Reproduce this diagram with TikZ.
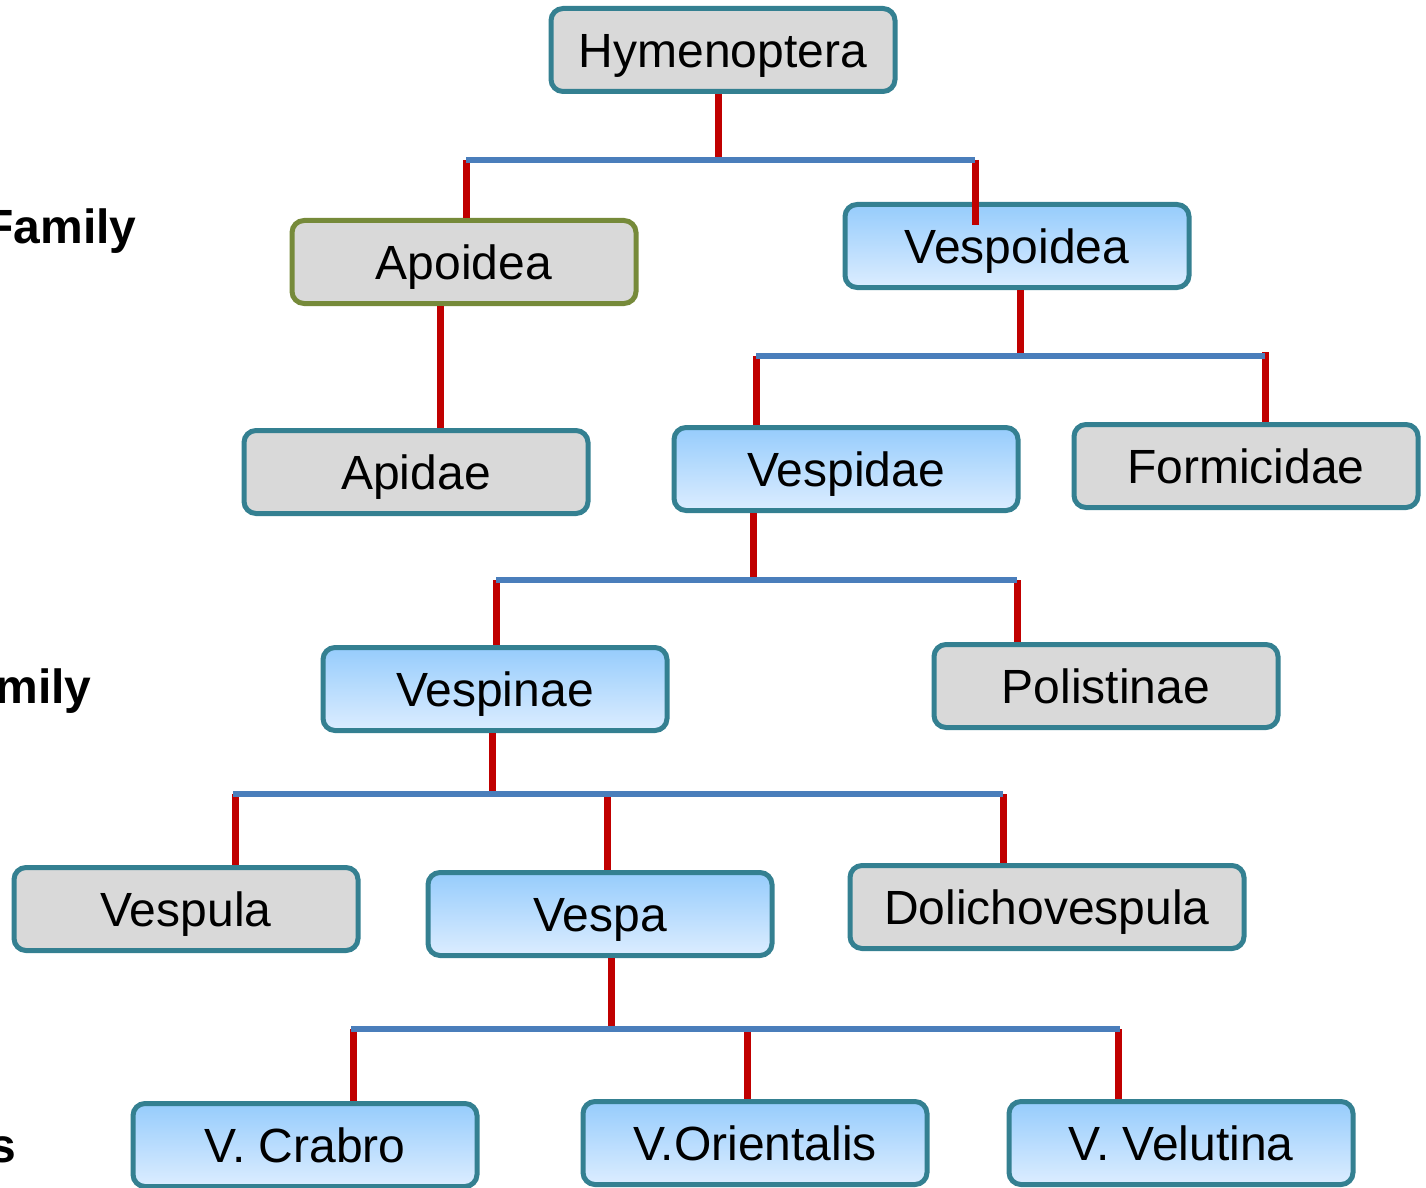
\documentclass[tikz,border=0pt]{standalone}
\usepackage{fontspec}
\setmainfont{Liberation Sans}
\usetikzlibrary{calc}
\definecolor{frame}{RGB}{52,128,145}
\definecolor{apoframe}{RGB}{118,138,58}
\definecolor{boxgrey}{RGB}{217,217,217}
\definecolor{skytop}{RGB}{150,204,252}
\definecolor{skybot}{RGB}{220,237,255}
\definecolor{stemred}{RGB}{192,0,0}
\definecolor{busblue}{RGB}{74,126,187}

\begin{document}
\begin{tikzpicture}[x=0.5pt, y=-0.5pt, font=\fontsize{24}{28}\selectfont,
    taxon/.style={draw=frame, line width=2.5pt, rounded corners=6pt, minimum width=172pt, minimum height=41.5pt, text height=17.2pt, text depth=0pt, inner sep=0pt},
    greybox/.style={taxon, fill=boxgrey},
    bluebox/.style={taxon, top color=skytop, bottom color=skybot},
    stem/.style={draw=stemred, line width=3.5pt},
    bus/.style={draw=busblue, line width=3.2pt},
    rank/.style={font=\fontsize{24}{28}\selectfont\bfseries, anchor=base east, inner sep=0pt}]
    \useasboundingbox (0,0) rectangle (1426,1188);
    \clip (0,0) rectangle (1426,1188);

    % Rank labels (cut by the left edge)
    \node[rank] (lfam) at (137,243) {Family};
    \node[rank] (lsub) at (92,703) {mily};
    \node[rank] (lspe) at (17,1162) {s};

    % Order and superfamilies
    \node[greybox] (hym) at (723,50) {Hymenoptera};
    \node[greybox, draw=apoframe] (apo) at (464,262) {Apoidea};
    \node[bluebox] (vspo) at (1017,246) {Vespoidea};

    % Families
    \node[greybox] (api) at (416,472) {Apidae};
    \node[bluebox] (vspi) at (846,469) {Vespidae};
    \node[greybox] (for) at (1246,466) {Formicidae};

    % Subfamilies
    \node[bluebox] (vsn) at (495,689) {Vespinae};
    \node[greybox] (pol) at (1106,686) {Polistinae};

    % Genera
    \node[greybox] (vsl) at (186,909) {Vespula};
    \node[bluebox] (vsp) at (600,914) {Vespa};
    \node[greybox, minimum width=197pt] (dol) at (1047,907) {Dolichovespula};

    % Species
    \node[bluebox] (cra) at (305,1145) {V. Crabro};
    \node[bluebox] (ori) at (755,1143) {V.Orientalis};
    \node[bluebox] (vel) at (1181,1143) {V. Velutina};

    % Hymenoptera branch
    \coordinate (b1m) at (718,160);
    \coordinate (b1w) at (466,160);
    \coordinate (b1e) at (975,160);
    \draw[stem] (b1m |- hym.south) -- (b1m);
    \draw[stem] (b1w) -- (b1w |- apo.north);
    \draw[stem] (b1e) -- ($(b1e |- vspo.north)+(0,23)$);
    \draw[bus] (b1w) -- (b1e);

    % Apoidea branch
    \coordinate (a1) at (440,300);
    \draw[stem] (a1 |- apo.south) -- (a1 |- api.north);

    % Vespoidea branch
    \coordinate (b2m) at (1020,356);
    \coordinate (b2w) at (756,356);
    \coordinate (b2e) at (1265,356);
    \draw[stem] (b2m |- vspo.south) -- (b2m);
    \draw[stem] (b2w) -- (b2w |- vspi.north);
    \draw[stem] ($(b2e)+(0,-4)$) -- (b2e |- for.north);
    \draw[bus] (b2w) -- (b2e);

    % Vespidae branch
    \coordinate (b3m) at (753,580);
    \coordinate (b3w) at (496,580);
    \coordinate (b3e) at (1017,580);
    \draw[stem] (b3m |- vspi.south) -- (b3m);
    \draw[stem] (b3w) -- (b3w |- vsn.north);
    \draw[stem] (b3e) -- (b3e |- pol.north);
    \draw[bus] (b3w) -- (b3e);

    % Vespinae branch
    \coordinate (b4m) at (492,794);
    \coordinate (b4w) at (235,794);
    \coordinate (b4c) at (607,794);
    \coordinate (b4e) at (1003,794);
    \draw[stem] (b4m |- vsn.south) -- (b4m);
    \draw[stem] (b4w) -- (b4w |- vsl.north);
    \draw[stem] (b4c) -- (b4c |- vsp.north);
    \draw[stem] (b4e) -- (b4e |- dol.north);
    \draw[bus] ($(b4w)+(-2,0)$) -- (b4e);

    % Vespa branch
    \coordinate (b5m) at (611,1029);
    \coordinate (b5w) at (353,1029);
    \coordinate (b5c) at (747,1029);
    \coordinate (b5e) at (1118,1029);
    \draw[stem] (b5m |- vsp.south) -- (b5m);
    \draw[stem] (b5w) -- (b5w |- cra.north);
    \draw[stem] (b5c) -- (b5c |- ori.north);
    \draw[stem] (b5e) -- (b5e |- vel.north);
    \draw[bus] ($(b5w)+(-2,0)$) -- ($(b5e)+(2,0)$);
  \end{tikzpicture}
\end{document}
